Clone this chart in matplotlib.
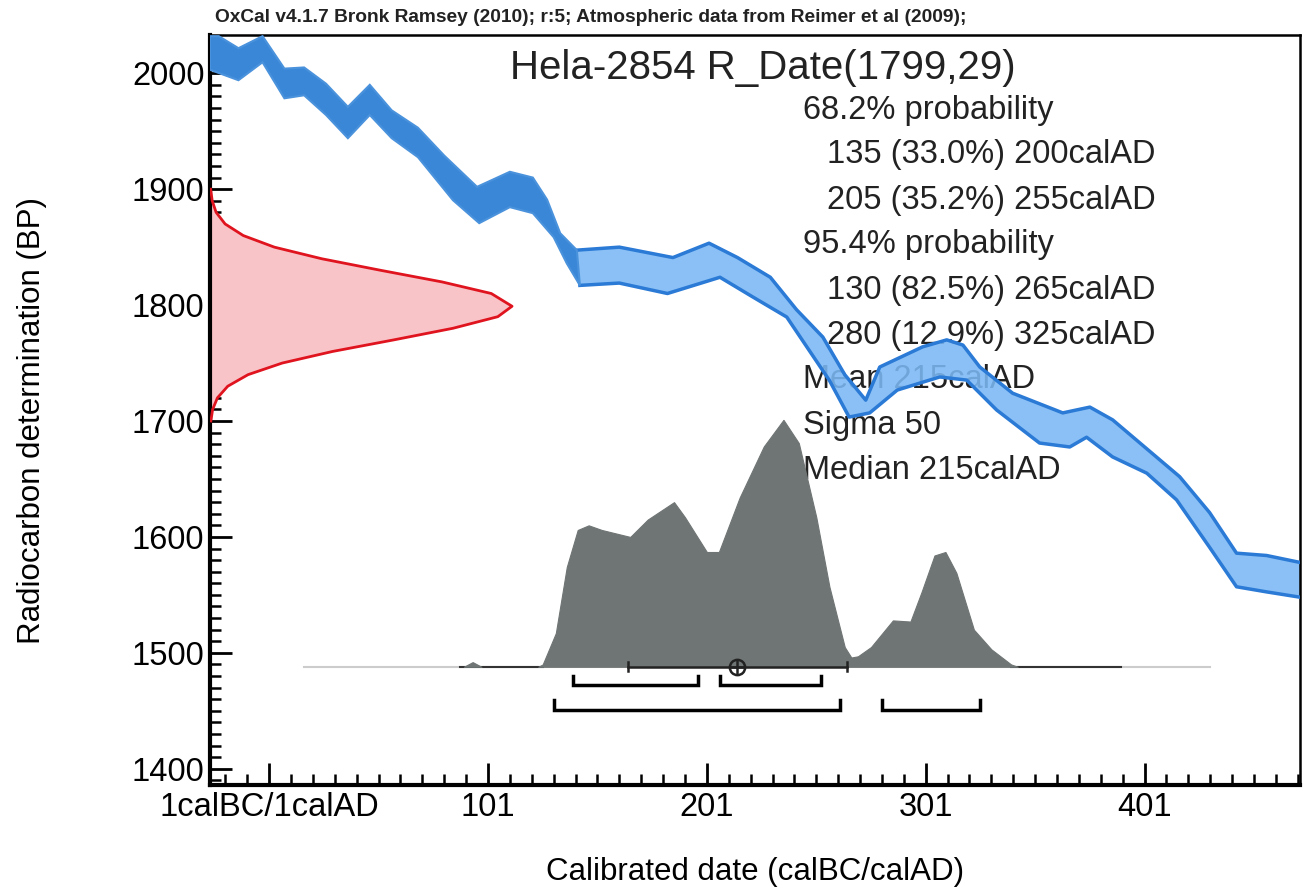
import numpy as np
import matplotlib
matplotlib.use("Agg")
import matplotlib.pyplot as plt
from matplotlib.ticker import MultipleLocator, FixedLocator

plt.rcParams['font.family'] = ['Liberation Sans', 'DejaVu Sans']

# Calibration curve band: upper edge and lower edge (date, BP)
top_x = [-26, -22, -13, -2, 8, 17, 27, 37, 47, 57, 69, 81, 96, 111, 121.5, 128, 134,
         141.6, 161, 185.5, 202, 215, 230, 242, 254, 264, 273.6, 280, 299.6, 310.6,
         318, 325.7, 340.7, 363.6, 376, 386.4, 417, 430.7, 443, 456.7, 472]
top_bp = [2032, 2032, 2021.6, 2032, 2004, 2005, 1991, 1971, 1990, 1968, 1953, 1929,
          1902, 1915, 1910, 1891, 1862, 1847.4, 1850, 1841, 1853.4, 1841, 1824, 1796,
          1772.4, 1740, 1718, 1746.6, 1764, 1770, 1765.5, 1746.6, 1724, 1707, 1712,
          1701, 1652, 1621, 1586, 1584, 1578]
bot_x = [-26, -13, -2, 8, 17, 27, 37, 47, 57, 69, 85, 97, 111, 121.5, 131, 137, 143,
         161, 183, 207, 222, 237.5, 257, 266, 275.4, 288, 307.4, 319.7, 333.4, 353,
         366.8, 374.5, 386.4, 402, 415.6, 430.7, 443, 456.7, 472]
bot_bp = [2003, 1994, 2009.5, 1978.4, 1981, 1964, 1944, 1964, 1944, 1927.6, 1890.5,
          1870.7, 1884.5, 1879.3, 1858.6, 1836, 1817, 1819, 1810, 1824, 1807, 1789.7,
          1735, 1703.4, 1707, 1726.7, 1738, 1735.3, 1709.5, 1681, 1677.6, 1686, 1669,
          1655, 1632, 1591, 1557, 1552.6, 1548]
n_top_dark = 18  # points of the early, darker part of the band
n_bot_dark = 17

# Radiocarbon measurement R_Date(1799,29): BP values and width of the red curve (years)
r_bp = [1700, 1710, 1720, 1730, 1740, 1750, 1760, 1770, 1780, 1790, 1799, 1810, 1820,
        1830, 1840, 1850, 1860, 1870, 1880, 1890, 1900]
r_w = [0.4, 1.2, 3.4, 8.1, 17.4, 33, 56, 84, 111, 131.5, 138, 128.5, 106, 78, 51, 29.4,
       15.2, 6.9, 2.8, 1.0, 0.3]

# Calibrated distribution, read as the top edge in BP units above the baseline
base_bp = 1488
post_x = [124, 126, 132, 137, 142, 147, 153, 166, 174, 186, 191, 201, 206.5, 216, 227,
          236, 243, 251, 257, 264, 267, 270, 276, 286, 294, 299, 305, 310, 315, 323, 331,
          340, 343]
post_y = [1488, 1490, 1517, 1574, 1606, 1610, 1606, 1600, 1615, 1630, 1617, 1587, 1587,
          1634, 1678, 1701, 1681, 1617, 1557, 1505, 1496, 1497, 1505, 1528, 1527, 1552,
          1584, 1587, 1569, 1520, 1503, 1490, 1488]
bump_x = [90, 94, 98]
bump_y = [1488, 1492, 1488]

# Ranges
r68 = [(140, 197), (207, 253)]
r95 = [(131, 262), (281, 326)]
mean_ad, sigma_ad = 215, 50

xt = [1, 101, 201, 301, 401]
xt_labels = ['1calBC/1calAD', '101', '201', '301', '401']
yt = [1400, 1500, 1600, 1700, 1800, 1900, 2000]

info = ['68.2% probability',
        '135 (33.0%) 200calAD',
        '205 (35.2%) 255calAD',
        '95.4% probability',
        '130 (82.5%) 265calAD',
        '280 (12.9%) 325calAD',
        'Mean 215calAD',
        'Sigma 50',
        'Median 215calAD']
indent = [0, 1, 1, 0, 1, 1, 0, 0, 0]

fig = plt.figure(figsize=(13.04, 8.96), dpi=100)
ax = fig.add_axes([210 / 1304, 111 / 896, 1090 / 1304, 750 / 896])
ax.set_xlim(-26, 472)
ax.set_ylim(1386, 2033)

# text under the curve
fig_t = fig.transFigure
ax.text(510 / 1304, 1 - 68 / 896, 'Hela-2854 R_Date(1799,29)', transform=fig_t,
        fontsize=29, color='#222222', va='center', ha='left', zorder=1)
for i, s in enumerate(info):
    ax.text((803 + 24 * indent[i]) / 1304, 1 - (110 + i * 45) / 896, s, transform=fig_t,
            fontsize=23.5, color='#222222', va='center', ha='left', zorder=1)

# calibration curve
tx, ty = np.array(top_x), np.array(top_bp)
bx, by = np.array(bot_x), np.array(bot_bp)
lt, lb = n_top_dark - 1, n_bot_dark - 1
ax.fill(np.r_[tx[lt:], bx[lb:][::-1]], np.r_[ty[lt:], by[lb:][::-1]],
        facecolor='#7ab8f4', edgecolor='none', alpha=0.88, zorder=2)
ax.plot(tx[lt:], ty[lt:], color='#2a7ad6', lw=2.5, zorder=3)
ax.plot(bx[lb:], by[lb:], color='#2a7ad6', lw=2.5, zorder=3)
ax.fill(np.r_[tx[:n_top_dark], bx[:n_bot_dark][::-1]],
        np.r_[ty[:n_top_dark], by[:n_bot_dark][::-1]],
        facecolor='#3a87d8', edgecolor='#4a92dc', lw=1.5, zorder=3)

# red radiocarbon date on the y axis
rw = np.array(r_w) - 26
ax.fill_betweenx(r_bp, -26, rw, facecolor='#f8c4c8', edgecolor='none', zorder=2)
ax.plot(rw, r_bp, color='#e0141e', lw=2, zorder=3)

# posterior
ax.plot([17, 431], [base_bp, base_bp], color='#cccccc', lw=1.5, zorder=2)
ax.plot([88, 126], [base_bp, base_bp], color='#333333', lw=1.5, zorder=2)
ax.plot([340, 390], [base_bp, base_bp], color='#333333', lw=1.5, zorder=2)
ax.fill_between(bump_x, base_bp, bump_y, facecolor='#6f7574', edgecolor='#6f7574',
                lw=0.8, zorder=4)
ax.fill_between(post_x, base_bp, post_y, facecolor='#6f7574', edgecolor='#6f7574',
                lw=0.8, zorder=4)

# mean +/- sigma
ax.plot([mean_ad - sigma_ad, mean_ad + sigma_ad], [base_bp, base_bp], color='#222222',
        lw=1.8, zorder=5)
for xv in (mean_ad - sigma_ad, mean_ad + sigma_ad):
    ax.plot([xv, xv], [base_bp - 4, base_bp + 4], color='#222222', lw=1.8, zorder=5)
ax.plot(mean_ad, base_bp, 'o', ms=11, mfc='none', mec='#222222', mew=1.8, zorder=6)
ax.plot(mean_ad, base_bp, '+', ms=11, mec='#222222', mew=1.8, zorder=6)

# range brackets
for ranges, yb in ((r68, 1472), (r95, 1451)):
    for a, b in ranges:
        ax.plot([a, a, b, b], [yb + 8, yb, yb, yb + 8], color='black', lw=2.5,
                solid_joinstyle='miter', zorder=5)

# axes styling
for side in ('left', 'bottom'):
    ax.spines[side].set_linewidth(3)
for side in ('top', 'right'):
    ax.spines[side].set_linewidth(1.8)
ax.xaxis.set_major_locator(FixedLocator(xt))
ax.set_xticklabels(xt_labels)
ax.xaxis.set_minor_locator(FixedLocator(np.arange(-19, 472, 10)))
ax.yaxis.set_major_locator(FixedLocator(yt))
ax.yaxis.set_minor_locator(MultipleLocator(10))
ax.tick_params(which='major', direction='in', length=16, width=2, labelsize=23.5,
               top=False, right=False, pad=5)
ax.tick_params(which='minor', direction='in', length=8, width=1.8, top=False, right=False)
ax.tick_params(axis='y', pad=4)
ax.set_xlabel('Calibrated date (calBC/calAD)', fontsize=22.5, va='center')
ax.set_ylabel('Radiocarbon determination (BP)', fontsize=22.5, va='center')
ax.xaxis.set_label_coords((755 - 210) / 1090, (785 - 872) / 750)
ax.yaxis.set_label_coords((32 - 210) / 1090, (785 - 420) / 750)

fig.text(215 / 1304, 1 - 18 / 896,
         'OxCal v4.1.7 Bronk Ramsey (2010); r:5; Atmospheric data from Reimer et al (2009);',
         fontsize=13.8, fontweight='bold', color='#222222', va='center', ha='left')

fig.savefig('out.png', dpi=100)
